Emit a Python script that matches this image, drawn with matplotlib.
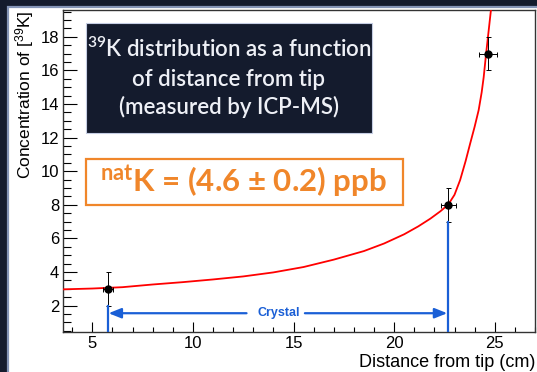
import numpy as np
import matplotlib
matplotlib.use("Agg")
import matplotlib.pyplot as plt
from matplotlib.patches import Rectangle
from matplotlib.ticker import MultipleLocator

plt.rcParams["mathtext.fontset"] = "custom"
plt.rcParams["mathtext.rm"] = "Lato"

# measured points
dist = [5.76, 22.69, 24.67]
conc = [3.0, 8.0, 17.0]
dist_err = [0.25, 0.36, 0.43]
conc_err = [1.0, 1.0, 1.0]

# fitted curve
fit_x = [3.5, 5.0, 6.5, 8.0, 9.5, 11.0, 12.5, 14.0, 15.5, 17.0, 18.5, 19.5,
         20.5, 21.2, 21.8, 22.3, 22.69, 23.0, 23.28, 23.55, 23.78, 24.0,
         24.2, 24.35, 24.45, 24.57, 24.7, 24.82]
fit_y = [2.97, 3.02, 3.10, 3.26, 3.40, 3.56, 3.74, 3.98, 4.30, 4.74, 5.25, 5.70,
         6.25, 6.72, 7.18, 7.62, 8.02, 8.6, 9.48, 10.6, 11.66, 12.65,
         13.64, 14.7, 15.6, 17.0, 18.4, 19.7]

crystal_start, crystal_end = 5.76, 22.69
crystal_top = (2.0, 7.0)
arrow_y = 1.55

BG = "#141b2d"
BLUE = "#1a5fd6"
ORANGE = "#f0862a"

fig = plt.figure(figsize=(5.37, 3.72), dpi=100, facecolor=BG)

# white panel with a blue-grey frame
fig.patches.append(Rectangle((8 / 537, -0.1), 1.2, (372 - 7) / 372 + 0.1,
                             transform=fig.transFigure, facecolor="white",
                             edgecolor="#8494b6", lw=1.6, zorder=-1))

ax = fig.add_axes([62.7 / 537, 40.3 / 372, 472.3 / 537, 321.7 / 372])
ax.set_zorder(1)
ax.set_xlim(3.53, 27.0)
ax.set_ylim(0.45, 19.6)

for s in ax.spines.values():
    s.set_color("#333333")
    s.set_linewidth(1.0)

ax.xaxis.set_major_locator(MultipleLocator(5))
ax.xaxis.set_minor_locator(MultipleLocator(1))
ax.yaxis.set_major_locator(MultipleLocator(2))
ax.yaxis.set_minor_locator(MultipleLocator(0.5))
ax.tick_params(axis="x", which="major", direction="in", length=7, width=0.8,
               labelsize=12, pad=3, top=False)
ax.tick_params(axis="x", which="minor", direction="in", length=3.6, width=0.8, top=False)
ax.tick_params(axis="y", which="major", direction="in", length=10, width=0.8,
               labelsize=12, pad=2.5, right=False)
ax.tick_params(axis="y", which="minor", direction="in", length=5.5, width=0.8, right=False)
for lab in ax.get_xticklabels() + ax.get_yticklabels():
    lab.set_fontfamily("Liberation Sans")

ax.text(-0.08, 1.0, r"Concentration of [$\mathregular{^{39}}$K]", transform=ax.transAxes,
        rotation=90, ha="center", va="top", fontsize=12.5, family="Liberation Sans")
ax.text(1.0, -0.0964, "Distance from tip (cm)", transform=ax.transAxes,
        ha="right", va="center", fontsize=13, family="Liberation Sans")

ax.plot(fit_x, fit_y, color="#ff0000", lw=1.3, zorder=3)

ax.errorbar(dist, conc, xerr=dist_err, yerr=conc_err, fmt="o", color="black",
            ms=5, elinewidth=0.7, capsize=1.8, capthick=0.7, zorder=4)

# crystal markers
ax.plot([crystal_start, crystal_start], [0.45, crystal_top[0]], color=BLUE, lw=1.6, zorder=5)
ax.plot([crystal_end, crystal_end], [0.45, crystal_top[1]], color=BLUE, lw=1.6, zorder=5)
mid = (crystal_start + crystal_end) / 2 + 0.04
arrow = dict(arrowstyle="-|>,head_length=0.75,head_width=0.3", color=BLUE, lw=1.6,
             shrinkA=0, shrinkB=0, mutation_scale=10)
ax.annotate("", xy=(crystal_start + 0.05, arrow_y), xytext=(mid - 1.6, arrow_y), arrowprops=arrow)
ax.annotate("", xy=(crystal_end - 0.05, arrow_y), xytext=(mid + 1.3, arrow_y), arrowprops=arrow)
ax.text(mid, arrow_y, "Crystal", color=BLUE, ha="center", va="center", fontsize=9,
        fontweight="bold", family="Liberation Sans")

# dark title box
fig.patches.append(Rectangle((86 / 537, (372 - 133) / 372), 285.7 / 537, 110.3 / 372,
                             transform=fig.transFigure, facecolor=BG,
                             edgecolor="#c5cde3", lw=0.8, zorder=5))
title_lines = [r"$\mathregular{^{39}}$K distribution as a function",
               "of distance from tip", "(measured by ICP-MS)"]
for yy, line in zip([49, 79, 107], title_lines):
    fig.text(229 / 537, (372 - yy) / 372, line, ha="center", va="center", color="#eef0f6",
             fontsize=16, family="Lato", fontweight="semibold", zorder=6)

# orange result box
fig.patches.append(Rectangle((86 / 537, (372 - 205) / 372), 316.7 / 537, 45.7 / 372,
                             transform=fig.transFigure, facecolor="white",
                             edgecolor=ORANGE, lw=1.6, zorder=5))
fig.text(243 / 537, (372 - 182) / 372, r"$\mathregular{^{nat}}$K = (4.6 ± 0.2) ppb",
         ha="center", va="center", color=ORANGE, fontsize=22.5, family="Lato",
         fontweight="bold", zorder=6)

fig.savefig("out.png", dpi=100, facecolor=BG)
